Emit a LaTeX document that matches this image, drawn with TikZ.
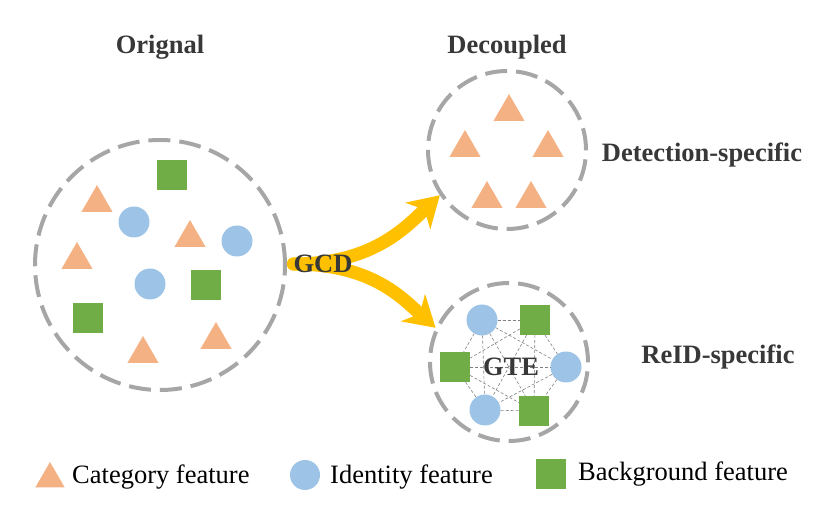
\documentclass[tikz,border=0pt]{standalone}
\usepackage{fontspec}
\setmainfont{Liberation Serif}
\usetikzlibrary{shapes.geometric,arrows.meta,backgrounds}
\definecolor{catorange}{RGB}{244,177,131}
\definecolor{idblue}{RGB}{157,195,230}
\definecolor{bggreen}{RGB}{112,173,71}
\definecolor{gcdyellow}{RGB}{255,192,0}
\definecolor{ringgray}{RGB}{166,166,166}
\definecolor{titlegray}{RGB}{56,56,56}

\begin{document}
\begin{tikzpicture}[x=1pt,y=-1pt,
  ring/.style={draw=ringgray,circle,line width=4pt,dash pattern=on 22pt off 9pt,inner sep=0},
  cat/.style={regular polygon,regular polygon sides=3,fill=catorange,minimum size=36pt,inner sep=0},
  idf/.style={circle,fill=idblue,minimum size=31pt,inner sep=0},
  bgf/.style={rectangle,fill=bggreen,minimum size=30pt,inner sep=0},
  ttl/.style={font=\fontsize{26.5}{30}\selectfont\bfseries,text=titlegray,inner sep=0},
  leg/.style={font=\fontsize{26.5}{30}\selectfont,anchor=west,inner sep=0},
  edge/.style={draw=gray,line width=0.6pt,dash pattern=on 3pt off 2pt},
  gcdarrow/.style={draw=gcdyellow,line width=13pt,line cap=round,-{Stealth[width=36pt,length=30pt,inset=9pt]}}]
\useasboundingbox (0,0) rectangle (825,526);

% titles
\node[ttl] (torig) at (160,47) {Orignal};
\node[ttl] (tdec) at (507,47) {Decoupled};
\node[ttl] (tdet) at (702,155) {Detection-specific};
\node[ttl] (treid) at (718,357) {ReID-specific};

% rings
\node[ring,minimum size=250pt] (orig) at (160,265) {};
\node[ring,minimum size=158pt] (det) at (507,150) {};
\node[ring,minimum size=158pt] (reid) at (509,362) {};

% original features
\node[cat] (oc1) at (97,203) {};
\node[cat] (oc2) at (190,238) {};
\node[cat] (oc3) at (77,260) {};
\node[cat] (oc4) at (143,354) {};
\node[cat] (oc5) at (216,340) {};
\node[idf] (oi1) at (134,222) {};
\node[idf] (oi2) at (237,241) {};
\node[idf] (oi3) at (150,284) {};
\node[bgf] (ob1) at (172,175) {};
\node[bgf] (ob2) at (206,285) {};
\node[bgf] (ob3) at (88,318) {};

% detection-specific
\node[cat] (dc1) at (509,112) {};
\node[cat] (dc2) at (465,148) {};
\node[cat] (dc3) at (548,148) {};
\node[cat] (dc4) at (487,199) {};
\node[cat] (dc5) at (531,199) {};

% reid-specific
\node[idf] (ida) at (482,320) {};
\node[bgf] (bga) at (535,320) {};
\node[bgf] (bgb) at (455,367) {};
\node[idf] (idb) at (566,367) {};
\node[idf] (idc) at (485,410) {};
\node[bgf] (bgc) at (534,411) {};
\foreach \u [count=\i] in {ida,bga,bgb,idb,idc,bgc}
  \foreach \v [count=\j] in {ida,bga,bgb,idb,idc,bgc}
    {\ifnum\i<\j \draw[edge] (\u) -- (\v); \fi}
\node[ttl] (gte) at (511,367) {GTE};

% GCD split
\node[ttl] (gcd) at (323,264) {GCD};
\begin{scope}[on background layer]
\draw[gcdarrow] (gcd.west) .. controls (372,264) and (405,228) .. (det.214);
\draw[gcdarrow] (gcd.west) .. controls (372,264) and (402,298) .. (reid.155);
\end{scope}

% legend
\node[cat,minimum size=34pt] (lcat) at (50,479) {};
\node[leg] (lcatt) at (72,477) {Category feature};
\node[idf,minimum size=30pt] (lid) at (305,475) {};
\node[leg] (lidt) at (330,477) {Identity feature};
\node[bgf] (lbg) at (551,474) {};
\node[leg] (lbgt) at (578,474) {Background feature};
\end{tikzpicture}
\end{document}
